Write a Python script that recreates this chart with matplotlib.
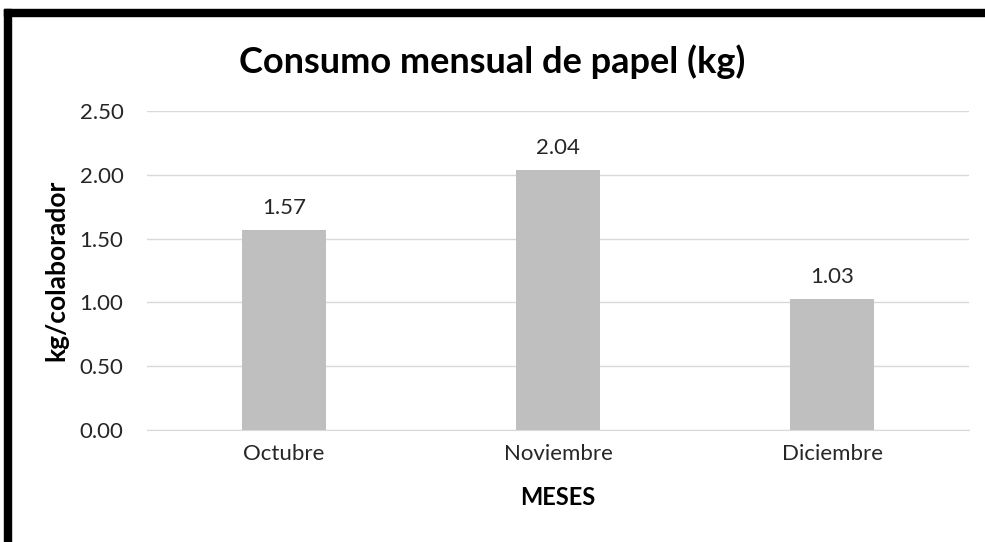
import matplotlib.pyplot as plt
from matplotlib.patches import Rectangle

plt.rcParams['font.family'] = ['Lato', 'DejaVu Sans']

meses = ['Octubre', 'Noviembre', 'Diciembre']
consumo = [1.57, 2.04, 1.03]
etiquetas = ['1.57', '2.04', '1.03']
yticks = [0.0, 0.5, 1.0, 1.5, 2.0, 2.5]

fig = plt.figure(figsize=(9.85, 5.42), dpi=100)
ax = fig.add_axes([147 / 985, 1 - 430 / 542, (969 - 147) / 985, (430 - 111) / 542])

x = range(len(meses))
ax.bar(x, consumo, width=0.31, color='#bfbfbf', zorder=2)
for xi, v, t in zip(x, consumo, etiquetas):
    ax.text(xi, v + 0.09, t, ha='center', va='bottom', fontsize=16, color='#262626')

ax.set_xlim(-0.5, 2.5)
ax.set_ylim(0, 2.5)
ax.set_yticks(yticks)
ax.set_yticklabels(['%.2f' % v for v in yticks], fontsize=16, color='#262626')
ax.set_xticks(list(x))
ax.set_xticklabels(meses, fontsize=16, color='#262626')
ax.tick_params(length=0)
ax.tick_params(axis='y', pad=17)
ax.tick_params(axis='x', pad=10)
ax.grid(axis='y', color='#d9d9d9', linewidth=1, zorder=0)
for s in ax.spines.values():
    s.set_visible(False)
ax.spines['bottom'].set_visible(True)
ax.spines['bottom'].set_color('#d9d9d9')

ax.set_xlabel('MESES', fontsize=17, fontweight='bold', color='#000000', labelpad=16)
ax.set_ylabel('kg/colaborador', fontsize=19, fontweight='bold', color='#000000', labelpad=8)
fig.text(0.5, 1 - 62 / 542, 'Consumo mensual de papel (kg)', ha='center', va='center',
         fontsize=26, fontweight='bold', color='#000000')

# marco negro grueso arriba e izquierda
fig.patches.append(Rectangle((4 / 985, 0), 7 / 985, 1 - 9 / 542, transform=fig.transFigure,
                             color='black', zorder=5))
fig.patches.append(Rectangle((4 / 985, 1 - 16 / 542), 1 - 4 / 985, 7 / 542,
                             transform=fig.transFigure, color='black', zorder=5))

fig.savefig('out.png', dpi=100)
